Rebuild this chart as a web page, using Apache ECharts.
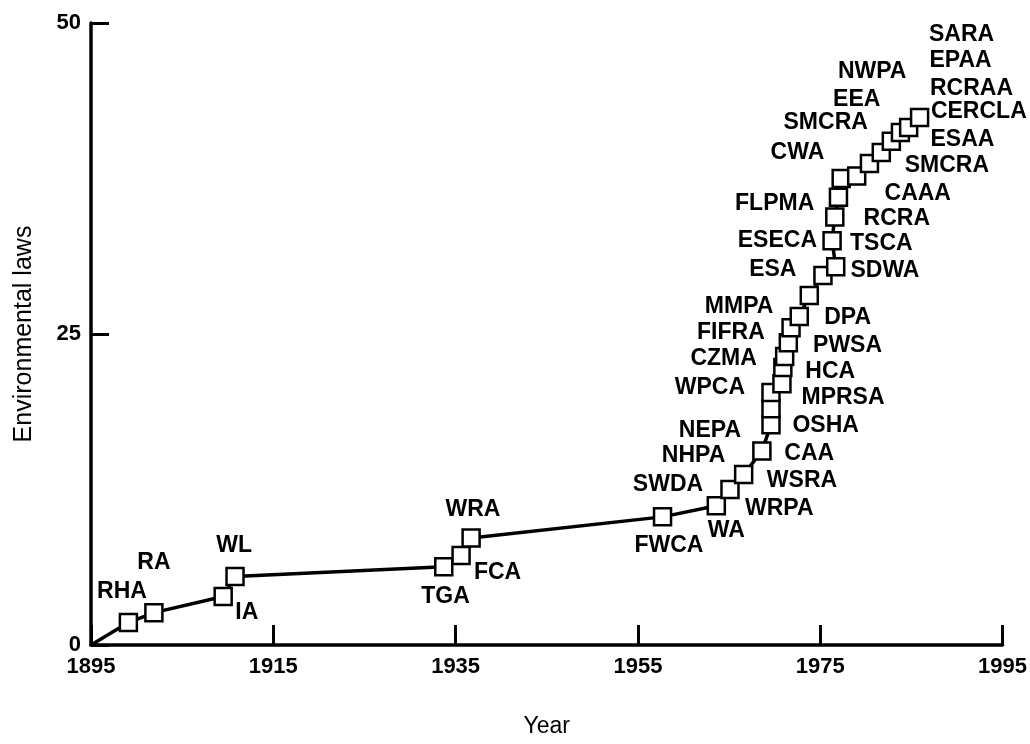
<!DOCTYPE html>
<html lang="en">
<head>
    <meta charset="UTF-8">
    <title>Environmental laws</title>
    <script src="https://cdn.jsdelivr.net/npm/echarts@6/dist/echarts.min.js"></script>
    <style>
        html, body {margin: 0; padding: 0; background: #fff;}
        #chart {width: 1030px; height: 744px;}
    </style>
</head>
<body>
<div id="chart"></div>
<script>
    /* cumulative laws */
    var years  = [1895, 1899.1, 1901.9, 1909.5, 1910.8, 1933.7, 1935.6, 1936.7, 1957.7, 1963.6,
                  1965.1, 1966.6, 1968.6, 1969.6, 1969.6, 1969.6, 1970.8, 1970.9, 1971.1, 1971.5,
                  1971.8, 1972.7, 1973.8, 1975.3, 1976.7, 1976.3, 1976.6, 1977.0, 1977.3, 1979.0,
                  1980.4, 1981.7, 1982.8, 1983.8, 1984.7, 1985.9];
    var laws   = [0, 1.8, 2.6, 3.9, 5.5, 6.3, 7.2, 8.6, 10.3, 11.2,
                  12.5, 13.7, 15.6, 17.7, 19.0, 20.3, 21.0, 22.3, 23.2, 24.3,
                  25.5, 26.4, 28.1, 29.7, 30.4, 32.5, 34.4, 36.0, 37.5, 37.7,
                  38.7, 39.6, 40.5, 41.2, 41.6, 42.4];

    /* act abbreviations and where their text sits (year, laws) */
    var actNames = ['RHA', 'RA', 'WL', 'IA', 'TGA', 'FCA', 'WRA', 'FWCA', 'WA', 'SWDA',
                    'NHPA', 'NEPA', 'WPCA', 'CZMA', 'FIFRA', 'MMPA', 'ESA', 'ESECA', 'FLPMA', 'CWA',
                    'SMCRA', 'EEA', 'NWPA', 'SARA', 'EPAA', 'RCRAA', 'CERCLA', 'ESAA', 'SMCRA', 'CAAA',
                    'RCRA', 'TSCA', 'SDWA', 'DPA', 'PWSA', 'HCA', 'MPRSA', 'OSHA', 'CAA', 'WSRA', 'WRPA'];
    var actYears = [1898.4, 1901.9, 1910.7, 1912.1, 1933.9, 1939.6, 1936.9, 1958.4, 1964.7, 1958.3,
                    1961.1, 1962.9, 1962.9, 1964.4, 1965.2, 1966.1, 1969.8, 1970.3, 1970.0, 1972.5,
                    1975.6, 1979.0, 1980.7, 1990.5, 1990.4, 1991.6, 1992.4, 1990.6, 1988.9, 1985.7,
                    1983.4, 1981.7, 1982.1, 1978.0, 1978.0, 1976.1, 1977.5, 1975.6, 1973.8, 1973.0, 1970.5];
    var actLaws  = [4.3, 6.6, 8.0, 2.6, 3.9, 5.8, 10.9, 8.0, 9.2, 12.9,
                    15.2, 17.2, 20.7, 23.0, 25.1, 27.2, 30.2, 32.5, 35.5, 39.6,
                    42.0, 43.8, 46.1, 49.1, 47.0, 44.7, 42.9, 40.6, 38.5, 36.3,
                    34.3, 32.3, 30.1, 26.3, 24.1, 22.0, 19.9, 17.6, 15.4, 13.2, 11.0];

    var xTicks = {min: 1895, max: 1995, step: 20};
    var yTicks = {min: 0, max: 50, step: 25};

    var lineData = [];
    for (var i = 0; i < years.length; i++) {
        var item = {value: [years[i], laws[i]]};
        if (i === 0) item.symbol = 'none';
        lineData.push(item);
    }
    var labelData = [];
    for (var j = 0; j < actNames.length; j++) {
        labelData.push({name: actNames[j], value: [actYears[j], actLaws[j]]});
    }

    var font = 'Liberation Sans, Arial, sans-serif';
    var myChart = echarts.init(document.getElementById('chart'), null, {renderer: 'canvas'});
    var option = {
        backgroundColor: '#fff',
        animation: false,
        grid: {left: 91, right: 27, top: 23, bottom: 99},
        xAxis: {
            type: 'value',
            min: xTicks.min, max: xTicks.max, interval: xTicks.step,
            name: 'Year',
            nameLocation: 'middle',
            nameGap: 70,
            nameTextStyle: {fontFamily: font, color: '#000', fontSize: 23},
            axisLine: {lineStyle: {color: '#000', width: 3.5}},
            axisTick: {inside: true, length: 20, lineStyle: {color: '#000', width: 3}},
            axisLabel: {
                fontFamily: font, color: '#000', fontSize: 22, fontWeight: 'bold', margin: 11,
                formatter: function (v) { return String(v); }
            },
            splitLine: {show: false}
        },
        yAxis: {
            type: 'value',
            min: yTicks.min, max: yTicks.max, interval: yTicks.step,
            name: 'Environmental laws',
            nameLocation: 'middle',
            nameGap: 54,
            nameTextStyle: {fontFamily: font, color: '#000', fontSize: 25},
            axisLine: {lineStyle: {color: '#000', width: 3.5}},
            axisTick: {inside: true, length: 18, lineStyle: {color: '#000', width: 3}},
            axisLabel: {fontFamily: font, color: '#000', fontSize: 22, fontWeight: 'bold', margin: 10},
            splitLine: {show: false}
        },
        series: [
            {
                name: 'laws',
                type: 'line',
                data: lineData,
                symbol: 'rect',
                symbolSize: 17,
                showAllSymbol: true,
                lineStyle: {color: '#000', width: 3.5},
                itemStyle: {color: '#fff', borderColor: '#000', borderWidth: 2.5},
                z: 3
            },
            {
                name: 'acts',
                type: 'scatter',
                data: labelData,
                symbolSize: 0,
                silent: true,
                itemStyle: {opacity: 1},
                label: {
                    show: true,
                    position: 'inside',
                    formatter: '{b}',
                    fontFamily: font,
                    fontSize: 23,
                    fontWeight: 'bold',
                    color: '#000',
                    textBorderWidth: 0
                },
                z: 4
            }
        ]
    };
    myChart.setOption(option);
</script>
</body>
</html>
